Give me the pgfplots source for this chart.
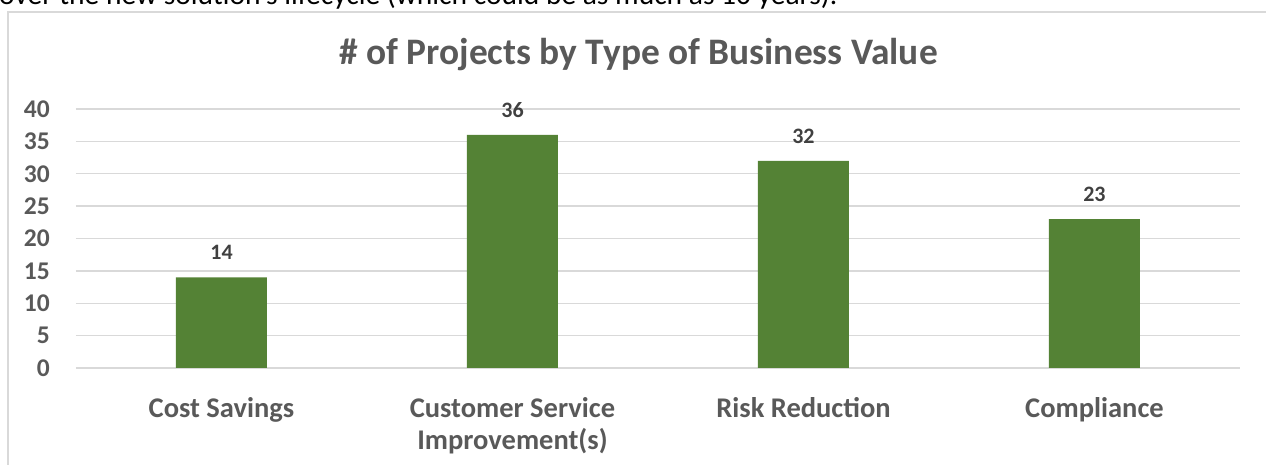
\documentclass[border=0pt]{standalone}
\usepackage{pgfplots}
\pgfplotsset{compat=1.18}
\usepackage{fontspec}
\setmainfont{Carlito}
\definecolor{bargreen}{HTML}{548235}
\definecolor{txtgrey}{HTML}{595959}
\definecolor{lblgrey}{HTML}{404040}
\definecolor{gridgrey}{HTML}{D9D9D9}
\begin{document}
\begin{tikzpicture}[x=1bp,y=1bp]
\begin{axis}[
  anchor=south west, at={(0,0)}, scale only axis,
  width=1164bp, height=259bp,
  xmin=-0.5, xmax=3.5, ymin=0, ymax=40,
  ytick={0,5,...,40},
  xtick=data,
  xticklabels={Cost Savings, {Customer Service\\Improvement(s)}, Risk Reduction, Compliance},
  axis line style={draw=none},
  tick style={draw=none},
  ymajorgrids,
  grid style={gridgrey, line width=1.3bp},
  /pgf/number format/assume math mode=true,
  yticklabel style={font=\fontsize{25.5bp}{30bp}\selectfont\bfseries, text=txtgrey, inner sep=0pt, anchor=east, xshift=-26bp},
  xticklabel style={font=\fontsize{28.5bp}{32.5bp}\selectfont\bfseries, text=txtgrey, inner sep=0pt, anchor=north, align=center, yshift=-25bp},
  ybar, bar width=91bp,
  nodes near coords,
  every node near coord/.append style={font=\fontsize{22bp}{26bp}\selectfont\bfseries, text=lblgrey, yshift=14bp},
]
\addplot[fill=bargreen, draw=none] coordinates {(0,14) (1,36) (2,32) (3,23)};
\end{axis}
\pgfresetboundingbox
\begin{scope}[shift={(-76,-97)}]
\useasboundingbox (0,0) rectangle (1266,465);
\node[anchor=base west, inner sep=0, font=\fontsize{29.5bp}{34bp}\selectfont] at (-1,460) {over the new solution's lifecycle (which could be as much as 10 years).};
\draw[gridgrey, line width=2bp] (8,-10) -- (8,452.5) -- (1280,452.5);
\node[anchor=base, inner sep=0, text=txtgrey, font=\fontsize{37.4bp}{44bp}\selectfont\bfseries] at (638.5,400) {\# of Projects by Type of Business Value};
\end{scope}
\end{tikzpicture}
\end{document}
